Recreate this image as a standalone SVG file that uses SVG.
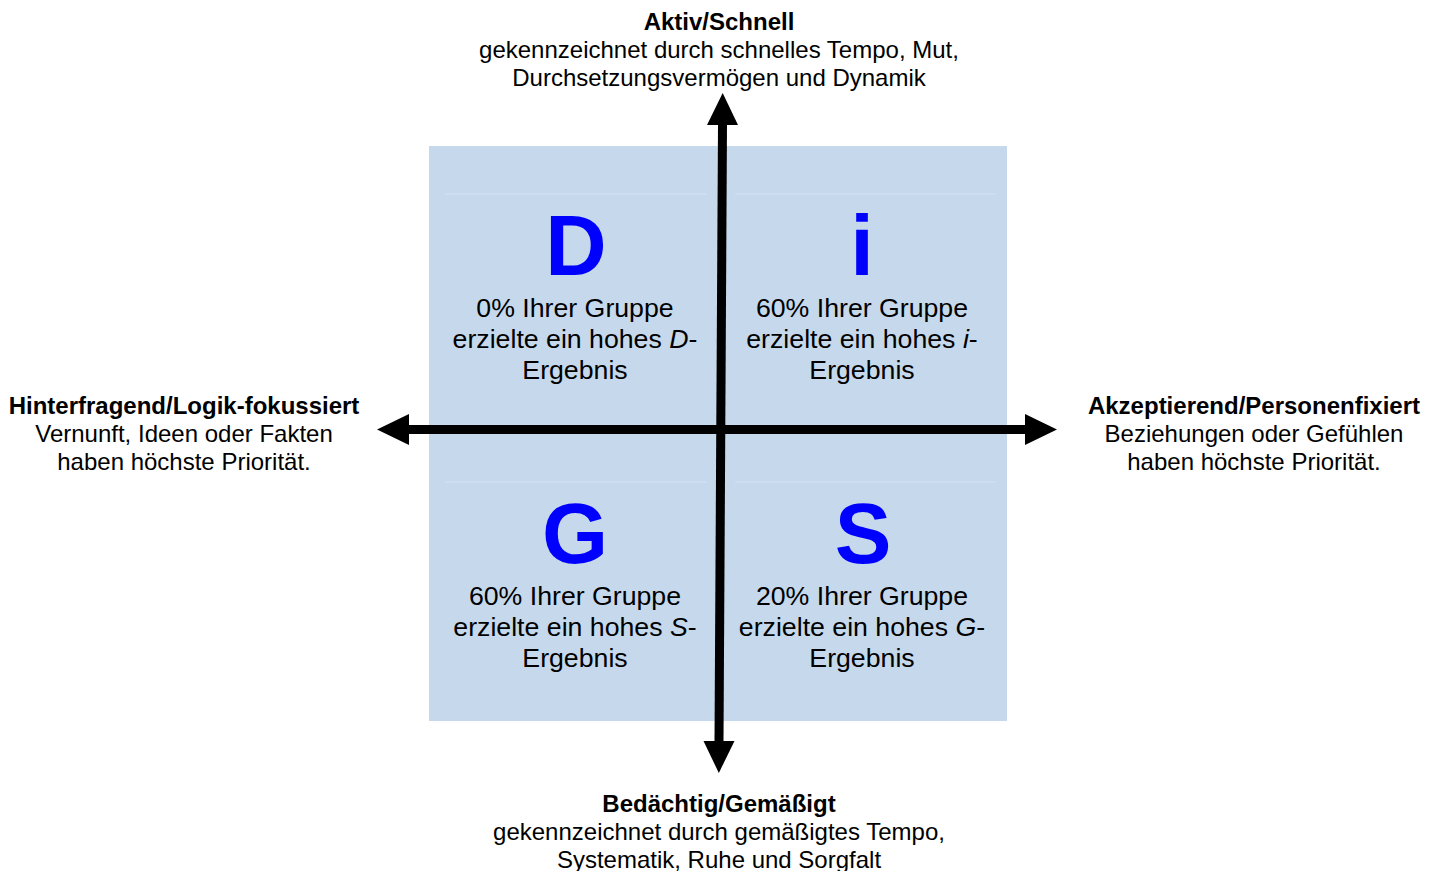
<svg xmlns="http://www.w3.org/2000/svg" width="1439" height="871" viewBox="0 0 1439 871">
<style>
text{font-family:"Liberation Sans",Arial,sans-serif;fill:#000;text-anchor:middle}
.h{font-size:24px;font-weight:bold}
.d{font-size:24px}
.q{font-size:26.7px}
.L{font-size:85px;font-weight:bold;fill:#0000ff}
.ax{stroke:#000;stroke-width:9;fill:none}
.sep{stroke:#d3e2f2;stroke-width:1}
</style>
<defs>
<marker id="ah" markerUnits="userSpaceOnUse" markerWidth="33" markerHeight="32" refX="0" refY="16" orient="auto-start-reverse" overflow="visible">
<path d="M0,0.5 L32,16 L0,31.5 Z" fill="#000"/>
</marker>
</defs>
<g id="field">
<rect x="429" y="146" width="578" height="575" fill="#c6d9ec"/>
<line class="sep" x1="445" y1="194" x2="706" y2="194"/>
<line class="sep" x1="735" y1="194" x2="996" y2="194"/>
<line class="sep" x1="445" y1="482" x2="706" y2="482"/>
<line class="sep" x1="735" y1="482" x2="996" y2="482"/>
</g>
<g id="quadrant-D">
<text class="L" x="576" y="275">D</text>
<text class="q" x="575" y="317">0% Ihrer Gruppe</text>
<text class="q" x="575" y="348">erzielte ein hohes <tspan font-style="italic">D</tspan>-</text>
<text class="q" x="575" y="379">Ergebnis</text>
</g>
<g id="quadrant-i">
<text class="L" x="862" y="275">i</text>
<text class="q" x="862" y="317">60% Ihrer Gruppe</text>
<text class="q" x="862" y="348">erzielte ein hohes <tspan font-style="italic">i</tspan>-</text>
<text class="q" x="862" y="379">Ergebnis</text>
</g>
<g id="quadrant-G">
<text class="L" x="575" y="563">G</text>
<text class="q" x="575" y="605">60% Ihrer Gruppe</text>
<text class="q" x="575" y="636">erzielte ein hohes <tspan font-style="italic">S</tspan>-</text>
<text class="q" x="575" y="667">Ergebnis</text>
</g>
<g id="quadrant-S">
<text class="L" x="863" y="563">S</text>
<text class="q" x="862" y="605">20% Ihrer Gruppe</text>
<text class="q" x="862" y="636">erzielte ein hohes <tspan font-style="italic">G</tspan>-</text>
<text class="q" x="862" y="667">Ergebnis</text>
</g>
<g id="connectors">
<line class="ax" x1="722.5" y1="125" x2="719" y2="741" marker-start="url(#ah)" marker-end="url(#ah)"/>
<line class="ax" x1="409" y1="429.5" x2="1025" y2="429.5" marker-start="url(#ah)" marker-end="url(#ah)"/>
</g>
<g id="label-top">
<text class="h" x="719" y="30">Aktiv/Schnell</text>
<text class="d" x="719" y="58">gekennzeichnet durch schnelles Tempo, Mut,</text>
<text class="d" x="719" y="86">Durchsetzungsvermögen und Dynamik</text>
</g>
<g id="label-left">
<text class="h" x="184" y="414">Hinterfragend/Logik-fokussiert</text>
<text class="d" x="184" y="442">Vernunft, Ideen oder Fakten</text>
<text class="d" x="184" y="470">haben höchste Priorität.</text>
</g>
<g id="label-right">
<text class="h" x="1254" y="414">Akzeptierend/Personenfixiert</text>
<text class="d" x="1254" y="442">Beziehungen oder Gefühlen</text>
<text class="d" x="1254" y="470">haben höchste Priorität.</text>
</g>
<g id="label-bottom">
<text class="h" x="719" y="812">Bedächtig/Gemäßigt</text>
<text class="d" x="719" y="840">gekennzeichnet durch gemäßigtes Tempo,</text>
<text class="d" x="719" y="868">Systematik, Ruhe und Sorgfalt</text>
</g>
</svg>
